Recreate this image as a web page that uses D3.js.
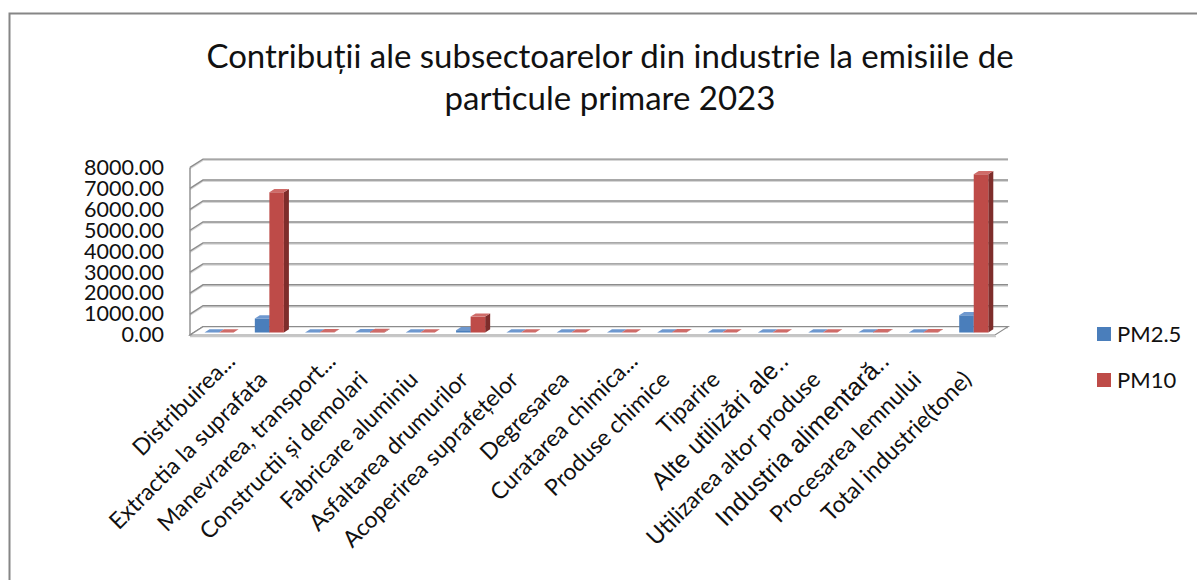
<!DOCTYPE html>
<html>
<head>
<meta charset="utf-8">
<script src="https://cdn.jsdelivr.net/npm/d3@7"></script>
<style>
  html, body { margin: 0; padding: 0; background: #fff; }
  svg { display: block; }
</style>
</head>
<body>
<svg id="chart" width="1197" height="580"></svg>
<script>
// Emission data (tonnes), industrial subsectors, 2023
const categories = [
  "Distribuirea...",
  "Extractia la suprafata",
  "Manevrarea, transport...",
  "Constructii și demolari",
  "Fabricare aluminiu",
  "Asfaltarea drumurilor",
  "Acoperirea suprafețelor",
  "Degresarea",
  "Curatarea chimica...",
  "Produse chimice",
  "Tiparire",
  "Alte utilizări ale..",
  "Utilizarea altor produse",
  "Industria alimentară..",
  "Procesarea lemnului",
  "Total industrie(tone)"
];
const seriesNames = ["PM2.5", "PM10"];
const pm25 = [1.5, 670, 4, 10, 2, 110, 1, 0.5, 0.3, 5, 0.2, 3, 2, 8, 5, 822];
const pm10 = [3, 6700, 9, 30, 3, 760, 1, 0.5, 0.3, 10, 0.2, 4, 3, 20, 15, 7559];
const yTicks = [0, 1000, 2000, 3000, 4000, 5000, 6000, 7000, 8000];
const titleLines = ["Contribuții ale subsectoarelor din industrie la emisiile de", "particule primare 2023"];

const seriesValues = { "PM2.5": pm25, "PM10": pm10 };
const colors = {
  "PM2.5": { front: "#4a7ebb", top: "#6e98cf", side: "#34598a" },
  "PM10":  { front: "#be4b48", top: "#cf6b68", side: "#7e2d2b" }
};

const svg = d3.select("#chart");

// Outer chart frame
svg.append("rect")
  .attr("x", 9.5).attr("y", 13.5)
  .attr("width", 1250).attr("height", 640)
  .attr("fill", "#fff")
  .attr("stroke", "#868686").attr("stroke-width", 2);

// Title
const title = svg.append("text")
  .attr("x", 610).attr("y", 68)
  .attr("text-anchor", "middle")
  .attr("font-family", "Lato, 'Open Sans', sans-serif")
  .attr("font-size", 33)
  .attr("fill", "#111");
titleLines.forEach((t, i) => {
  title.append("tspan").attr("x", 610).attr("dy", i === 0 ? 0 : 42).text(t);
});

// 3D plot geometry: front plane plus a receding depth offset
const left = 190, right = 995;
const depthX = 13, depthY = -8.3;

const x = d3.scaleBand().domain(categories).range([left, right]).paddingInner(0).paddingOuter(0);
const xs = d3.scaleBand().domain(seriesNames).range([0, x.bandwidth()]).paddingInner(0).paddingOuter(0.73);
const y = d3.scaleLinear().domain([0, 8000]).range([335, 167.4]);

const back = (px, py) => [px + depthX, py + depthY];

// Gridlines: left side wall diagonal + back wall horizontal
const grid = svg.append("g");
yTicks.forEach(v => {
  const yf = y(v);
  const [bx, by] = back(left, yf);
  const [ex] = back(right, yf);
  const pts = [[left, yf], [bx, by], [ex, by]];
  grid.append("polyline")
    .attr("points", pts.map(p => [p[0], p[1] + 1.3].join(",")).join(" "))
    .attr("fill", "none").attr("stroke", "#d6d6d6").attr("stroke-width", 1.2);
  grid.append("polyline")
    .attr("points", pts.map(p => p.join(",")).join(" "))
    .attr("fill", "none").attr("stroke", "#8c8c8c").attr("stroke-width", 1.4);
});
// Left wall front edge
grid.append("line")
  .attr("x1", left).attr("x2", left)
  .attr("y1", y(8000)).attr("y2", y(0) + 1)
  .attr("stroke", "#8c8c8c").attr("stroke-width", 1.4);

// Floor
const [fbx0, fby] = back(left, y(0));
const [fbx1] = back(right, y(0));
svg.append("polygon")
  .attr("points", [[left, y(0)], [right, y(0)], [fbx1, fby], [fbx0, fby]].map(p => p.join(",")).join(" "))
  .attr("fill", "#fff").attr("stroke", "#8c8c8c").attr("stroke-width", 1.2);
svg.append("line")
  .attr("x1", left).attr("x2", right + 1)
  .attr("y1", y(0) + 1.5).attr("y2", y(0) + 1.5)
  .attr("stroke", "#c8c8c8").attr("stroke-width", 1.5);

// Bars (clustered, drawn as extruded boxes at mid depth)
const f0 = 0.3;                 // depth fraction of bar front face
const barDX = 5, barDY = -3.2;  // bar depth
const bars = svg.append("g");
categories.forEach((c, i) => {
  seriesNames.forEach(s => {
    const v = seriesValues[s][i];
    const xa = x(c) + xs(s) + depthX * f0;
    const xb = xa + xs.bandwidth();
    const yb = y(0) + depthY * f0;
    const yt = y(v) + depthY * f0;
    const col = colors[s];
    const poly = pts => pts.map(p => p.join(",")).join(" ");
    bars.append("polygon")
      .attr("points", poly([[xb, yb], [xb + barDX, yb + barDY], [xb + barDX, yt + barDY], [xb, yt]]))
      .attr("fill", col.side);
    bars.append("polygon")
      .attr("points", poly([[xa, yb], [xb, yb], [xb, yt], [xa, yt]]))
      .attr("fill", col.front);
    bars.append("polygon")
      .attr("points", poly([[xa, yt], [xb, yt], [xb + barDX, yt + barDY], [xa + barDX, yt + barDY]]))
      .attr("fill", col.top);
  });
});

// Y axis labels on the front plane
const yAxis = d3.axisLeft(y)
  .tickValues(yTicks)
  .tickFormat(d3.format(".2f"))
  .tickSize(0)
  .tickPadding(0);
const ya = svg.append("g").attr("transform", "translate(164,0)").call(yAxis);
ya.select(".domain").remove();
ya.selectAll("text")
  .attr("font-family", "Lato, sans-serif")
  .attr("font-size", 21.5)
  .attr("fill", "#111");

// Category labels, rotated
const arialLabels = new Set(["Alte utilizări ale..", "Industria alimentară.."]);
const labels = svg.append("g");
categories.forEach(c => {
  const cx = x(c) + x.bandwidth() / 2;
  const truncated = c.endsWith("..");
  const arial = arialLabels.has(c);
  labels.append("text")
    .attr("transform", `translate(${cx + 3},${381}) rotate(-45)`)
    .attr("dx", truncated ? 26 : 0)
    .attr("text-anchor", "end")
    .attr("font-family", arial ? "'Liberation Sans', Arial, sans-serif" : "Lato, sans-serif")
    .attr("font-size", arial ? 25 : 23)
    .attr("fill", "#111")
    .text(c);
});

// Legend
const legend = svg.append("g");
seriesNames.forEach((s, i) => {
  const ly = 334 + i * 46;
  legend.append("rect")
    .attr("x", 1097).attr("y", ly - 7)
    .attr("width", 14).attr("height", 14)
    .attr("fill", colors[s].front);
  legend.append("text")
    .attr("x", 1117).attr("y", ly)
    .attr("dy", "0.36em")
    .attr("font-family", "Lato, sans-serif")
    .attr("font-size", 22)
    .attr("fill", "#111")
    .text(s);
});
</script>
</body>
</html>
